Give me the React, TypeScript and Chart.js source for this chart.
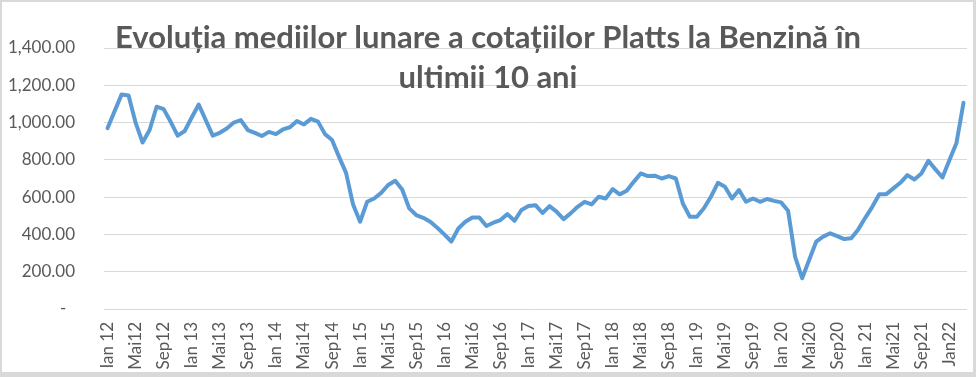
import { useEffect, useRef } from 'react';
import { Chart, registerables } from 'chart.js';

Chart.register(...registerables);

const titleLines = ['Evoluția mediilor lunare a cotațiilor Platts la Benzină în', 'ultimii 10 ani'];

const v2012 = [970, 1060, 1150, 1145, 1000, 893, 960, 1085, 1072, 1004, 930, 955];
const v2013 = [1027, 1097, 1013, 930, 945, 968, 1000, 1013, 960, 945, 928, 950];
const v2014 = [938, 963, 975, 1008, 990, 1020, 1005, 938, 906, 816, 730, 560];
const v2015 = [468, 575, 593, 623, 665, 688, 641, 540, 504, 489, 468, 436];
const v2016 = [400, 362, 432, 468, 491, 491, 445, 463, 477, 509, 473, 531];
const v2017 = [552, 557, 515, 552, 522, 482, 513, 548, 575, 561, 602, 593];
const v2018 = [643, 615, 634, 682, 727, 713, 715, 700, 713, 700, 566, 495];
const v2019 = [495, 540, 602, 677, 656, 593, 638, 575, 593, 575, 590, 580];
const v2020 = [572, 527, 280, 165, 263, 361, 388, 406, 391, 375, 379, 427];
const v2021 = [489, 548, 616, 616, 647, 677, 718, 695, 727, 795, 749, 706];
const v2022 = [799, 891, 1106];

const values = [...v2012, ...v2013, ...v2014, ...v2015, ...v2016, ...v2017, ...v2018, ...v2019, ...v2020, ...v2021, ...v2022];

const monthNames = ['Ian', 'Feb', 'Mar', 'Apr', 'Mai', 'Iun', 'Iul', 'Aug', 'Sep', 'Oct', 'Noi', 'Dec'];
const categories = values.map((_, i) => `${monthNames[i % 12]} ${12 + Math.floor(i / 12)}`);

const tickLabels = [
  'Ian 12', 'Mai12', 'Sep12', 'Ian 13', 'Mai13', 'Sep13', 'Ian 14', 'Mai14', 'Sep14',
  'Ian 15', 'Mai15', 'Sep15', 'Ian 16', 'Mai16', 'Sep16', 'Ian 17', 'Mai17', 'Sep17',
  'Ian 18', 'Mai18', 'Sep18', 'Ian 19', 'Mai19', 'Sep19', 'Ian 20', 'Mai20', 'Sep20',
  'Ian 21', 'Mai21', 'Sep21', 'Jan22',
];

const fmt = (v: number) => {
  if (v === 0) return '-  ';
  const s = v.toFixed(2);
  const [int, dec] = s.split('.');
  return int.replace(/\B(?=(\d{3})+(?!\d))/g, ',') + '.' + dec;
};

const titlePlugin = {
  id: 'overlayTitle',
  afterDraw(chart: any) {
    const ctx = chart.ctx;
    ctx.save();
    ctx.font = 'bold 31px Lato';
    ctx.fillStyle = '#595959';
    ctx.textAlign = 'center';
    ctx.textBaseline = 'alphabetic';
    titleLines.forEach((t, i) => ctx.fillText(t, 486, 46 + i * 40));
    ctx.restore();
  },
};

export default function App() {
  const ref = useRef<HTMLCanvasElement>(null);
  useEffect(() => {
    if (!ref.current) return;
    const chart = new Chart(ref.current, {
      type: 'line',
      data: {
        labels: categories,
        datasets: [
          {
            data: values,
            borderColor: '#5b9bd5',
            backgroundColor: '#5b9bd5',
            borderWidth: 4,
            pointRadius: 0,
            tension: 0,
            borderJoinStyle: 'round',
            borderCapStyle: 'round',
          },
        ],
      },
      options: {
        animation: false,
        responsive: false,
        layout: { padding: { top: 46, right: 6, left: 0, bottom: 0 } },
        plugins: { legend: { display: false }, tooltip: { enabled: false }, title: { display: false } },
        scales: {
          x: {
            offset: true,
            grid: { display: false, drawTicks: false },
            border: { display: false },
            ticks: {
              autoSkip: false,
              minRotation: 90,
              maxRotation: 90,
              padding: 13,
              color: '#595959',
              font: { family: 'Lato', size: 17 },
              callback: (_v: any, index: number) => (index % 4 === 0 ? tickLabels[index / 4] : null),
            },
            afterFit: (s: any) => {
              s.height = 63;
              s.paddingLeft = 0;
              s.paddingRight = 0;
            },
          },
          y: {
            min: 0,
            max: 1400,
            grid: { color: '#d9d9d9', lineWidth: 1, drawTicks: false },
            border: { display: false },
            ticks: {
              stepSize: 200,
              padding: 29,
              color: '#595959',
              font: { family: 'Lato', size: 17 },
              callback: (v: any) => fmt(Number(v)),
            },
            afterFit: (s: any) => {
              s.width = 102;
            },
          },
        },
      },
      plugins: [titlePlugin],
    });
    return () => chart.destroy();
  }, []);

  return (
    <div style={{ position: 'fixed', left: 0, top: 0, width: 976, height: 377, background: '#d9d9d9' }}>
      <div style={{ position: 'absolute', left: 2, top: 2, width: 971, height: 370, background: '#ffffff' }}>
        <canvas ref={ref} width={971} height={370} style={{ display: 'block' }} />
      </div>
    </div>
  );
}
